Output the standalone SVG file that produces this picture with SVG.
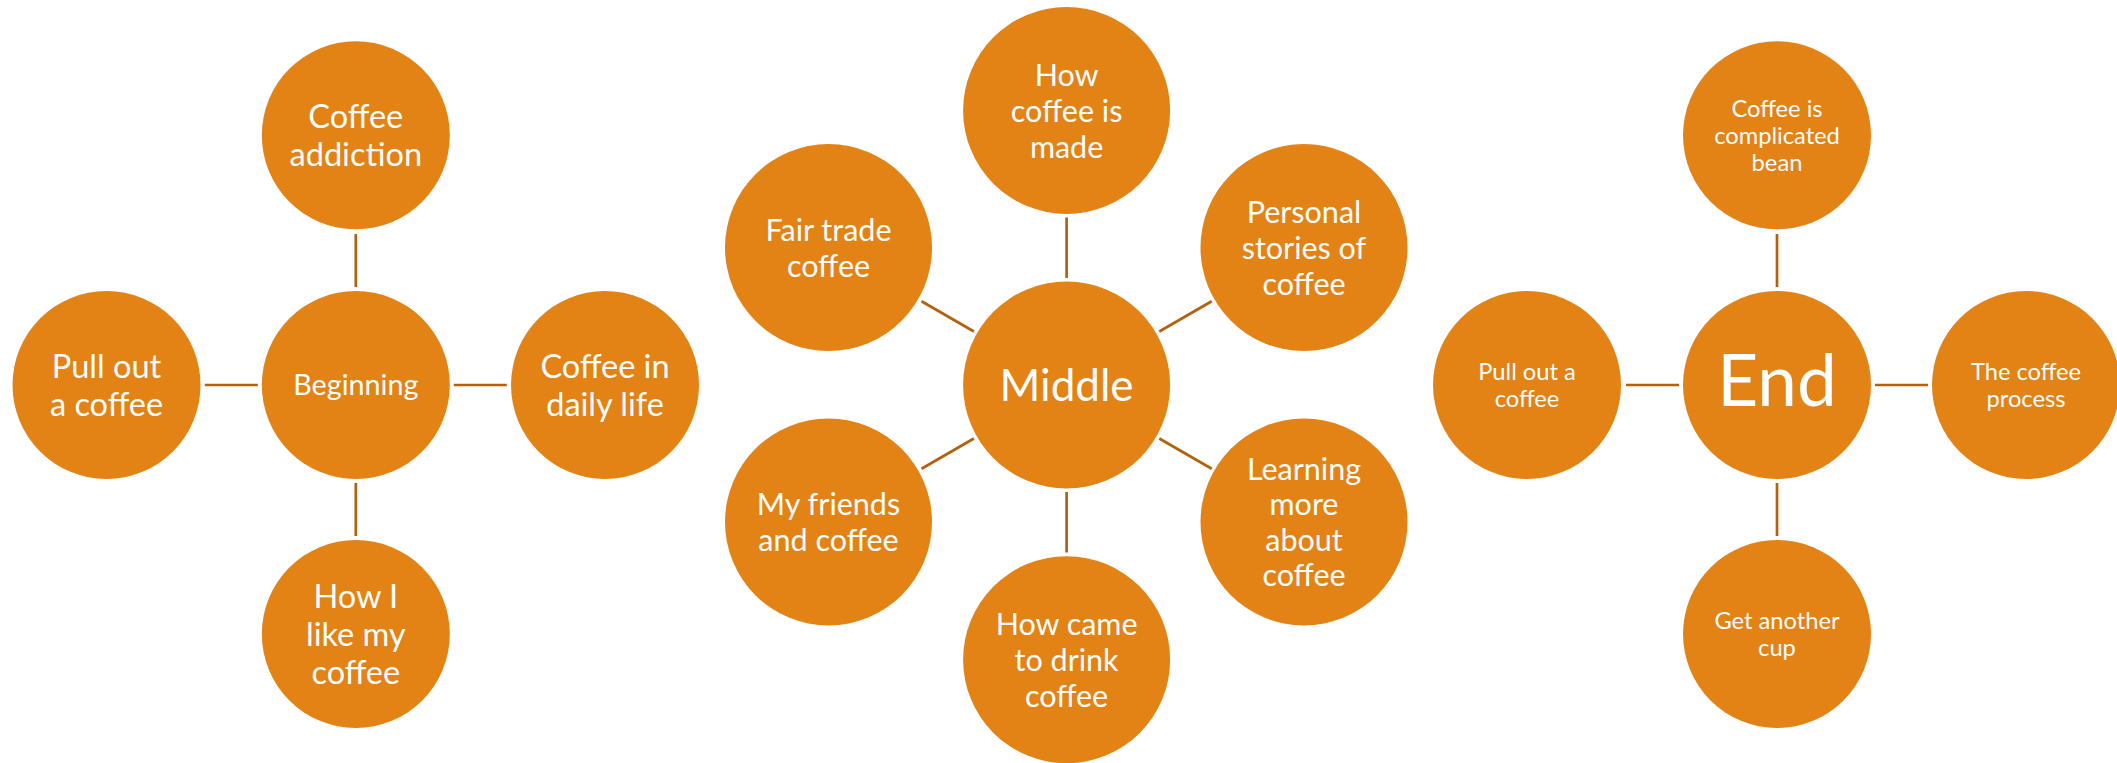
<svg xmlns="http://www.w3.org/2000/svg" width="2117" height="763" viewBox="0 0 2117 763">
<style>
.n{fill:#E38215}
.t{fill:#ffffff;font-family:Lato,"Liberation Sans",sans-serif;text-anchor:middle}
.a{font-size:32.5px}
.b{font-size:30.5px}
.c{font-size:23.7px}
.e{stroke:#B3610F;stroke-width:2.7;fill:none}
</style>
<rect width="2117" height="763" fill="#ffffff"/>
<g id="connectors" class="e">
<line x1="355.8" y1="287" x2="355.8" y2="234"/>
<line x1="355.8" y1="483" x2="355.8" y2="536"/>
<line x1="257.8" y1="385" x2="204.8" y2="385"/>
<line x1="453.8" y1="385" x2="506.8" y2="385"/>
<line x1="1066.6" y1="278" x2="1066.6" y2="217.5"/>
<line x1="1066.6" y1="492" x2="1066.6" y2="552.5"/>
<line x1="973.9" y1="331.5" x2="921.5" y2="301.25"/>
<line x1="1159.3" y1="331.5" x2="1211.7" y2="301.25"/>
<line x1="973.9" y1="438.5" x2="921.5" y2="468.75"/>
<line x1="1159.3" y1="438.5" x2="1211.7" y2="468.75"/>
<line x1="1777" y1="287" x2="1777" y2="234"/>
<line x1="1777" y1="483" x2="1777" y2="536"/>
<line x1="1679" y1="385" x2="1626" y2="385"/>
<line x1="1875" y1="385" x2="1928" y2="385"/>
</g>
<g id="beginning"><circle class="n" cx="355.8" cy="385" r="94"/><text class="t" style="font-size:28.7px" x="355.8" y="395">Beginning</text></g>
<g id="coffee-addiction"><circle class="n" cx="355.8" cy="135.3" r="94"/><text class="t a" x="355.8"><tspan x="355.8" y="128">Coffee</tspan><tspan x="355.8" y="166">addiction</tspan></text></g>
<g id="pull-out-1"><circle class="n" cx="106.5" cy="385" r="94"/><text class="t a"><tspan x="106.5" y="378">Pull out</tspan><tspan x="106.5" y="416">a coffee</tspan></text></g>
<g id="daily-life"><circle class="n" cx="605" cy="385" r="94"/><text class="t a"><tspan x="605" y="378">Coffee in</tspan><tspan x="605" y="416">daily life</tspan></text></g>
<g id="how-i-like"><circle class="n" cx="355.8" cy="634" r="94"/><text class="t a"><tspan x="355.8" y="607.7">How I</tspan><tspan x="355.8" y="645.7">like my</tspan><tspan x="355.8" y="683.7">coffee</tspan></text></g>

<g id="middle"><circle class="n" cx="1066.6" cy="385" r="103.5"/><text class="t" style="font-size:44px" x="1066.6" y="400.5">Middle</text></g>
<g id="how-made"><circle class="n" cx="1066.6" cy="110.5" r="103.5"/><text class="t b"><tspan x="1066.6" y="85.5">How</tspan><tspan x="1066.6" y="121.5">coffee is</tspan><tspan x="1066.6" y="157.5">made</tspan></text></g>
<g id="fair-trade"><circle class="n" cx="828.5" cy="247.6" r="103.5"/><text class="t b"><tspan x="828.5" y="240.6">Fair trade</tspan><tspan x="828.5" y="276.6">coffee</tspan></text></g>
<g id="personal"><circle class="n" cx="1304" cy="247.6" r="103.5"/><text class="t b"><tspan x="1304" y="222.6">Personal</tspan><tspan x="1304" y="258.6">stories of</tspan><tspan x="1304" y="294.6">coffee</tspan></text></g>
<g id="friends"><circle class="n" cx="828.5" cy="522" r="103.5"/><text class="t b"><tspan x="828.5" y="515">My friends</tspan><tspan x="828.5" y="551">and coffee</tspan></text></g>
<g id="learning"><circle class="n" cx="1304" cy="522" r="103.5"/><text class="t b"><tspan x="1304" y="479.75">Learning</tspan><tspan x="1304" y="515.25">more</tspan><tspan x="1304" y="550.75">about</tspan><tspan x="1304" y="586.25">coffee</tspan></text></g>
<g id="how-came"><circle class="n" cx="1066.6" cy="659.7" r="103.5"/><text class="t b"><tspan x="1066.6" y="634.7">How came</tspan><tspan x="1066.6" y="670.7">to drink</tspan><tspan x="1066.6" y="706.7">coffee</tspan></text></g>

<g id="end"><circle class="n" cx="1777" cy="385" r="94"/><text class="t" style="font-size:71px" x="1777" y="406">End</text></g>
<g id="complicated"><circle class="n" cx="1777" cy="135.3" r="94"/><text class="t c"><tspan x="1777" y="116.8">Coffee is</tspan><tspan x="1777" y="143.8">complicated</tspan><tspan x="1777" y="170.8">bean</tspan></text></g>
<g id="pull-out-2"><circle class="n" cx="1527" cy="385" r="94"/><text class="t c"><tspan x="1527" y="380">Pull out a</tspan><tspan x="1527" y="407">coffee</tspan></text></g>
<g id="process"><circle class="n" cx="2026" cy="385" r="94"/><text class="t c"><tspan x="2026" y="380">The coffee</tspan><tspan x="2026" y="407">process</tspan></text></g>
<g id="another-cup"><circle class="n" cx="1777" cy="634" r="94"/><text class="t c"><tspan x="1777" y="629">Get another</tspan><tspan x="1777" y="656">cup</tspan></text></g>
</svg>
